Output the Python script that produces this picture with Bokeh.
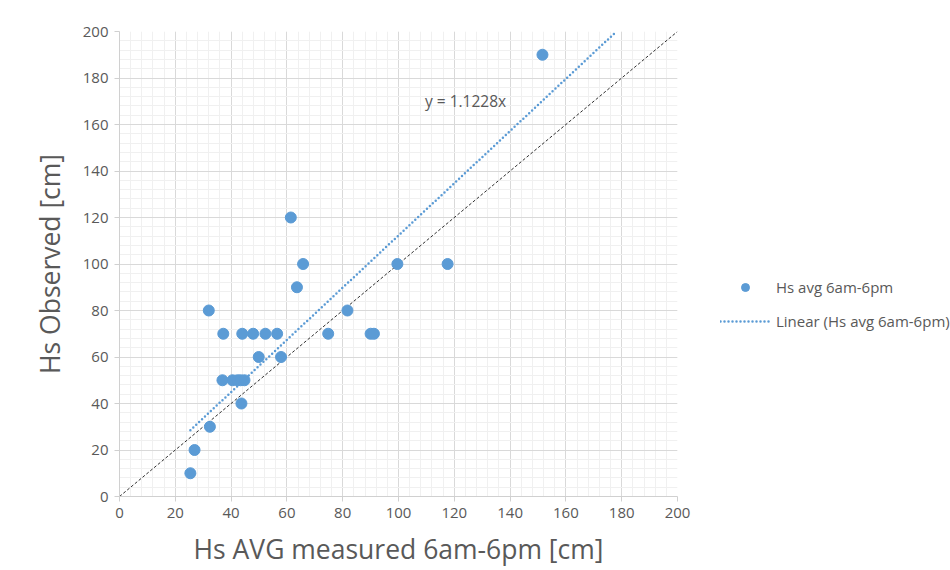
from bokeh.plotting import figure
from bokeh.models import Range1d, SingleIntervalTicker, Legend, LegendItem, Label
from bokeh.embed import file_html
from bokeh.resources import INLINE

# Data
hs_measured = [151.6, 61.4, 65.8, 63.6, 32.0, 81.7, 37.2, 44.0, 47.9, 52.3, 56.5, 74.8,
               90.0, 91.2, 99.6, 117.6, 49.9, 57.9, 36.9, 40.5, 42.3, 43.4, 44.8, 43.7,
               32.4, 26.9, 25.4]
hs_observed = [190, 120, 100, 90, 80, 80, 70, 70, 70, 70, 70, 70,
               70, 70, 100, 100, 60, 60, 50, 50, 50, 50, 50, 40,
               30, 20, 10]
trend_slope = 1.1228
axis_min, axis_max = 0, 200
series_name = "Hs avg 6am-6pm"
trend_name = "Linear (Hs avg 6am-6pm)"
equation_text = "y = 1.1228x"

FONT = "Open Sans"
GRAY = "#595959"
BLUE = "#5B9BD5"

p = figure(frame_width=558, frame_height=465, output_backend="svg", toolbar_location=None,
           x_range=Range1d(axis_min, axis_max), y_range=Range1d(axis_min, axis_max),
           min_border_left=119, min_border_right=0, min_border_top=31, min_border_bottom=74)
p.outline_line_color = None
p.background_fill_color = "white"
p.border_fill_color = "white"

for ax in (p.xaxis[0], p.yaxis[0]):
    ax.ticker = SingleIntervalTicker(interval=20, num_minor_ticks=5)
    ax.major_label_text_font = FONT
    ax.major_label_text_font_size = "15px"
    ax.major_label_text_color = GRAY
    ax.axis_line_color = "#d0d0d0"
    ax.major_tick_line_color = "#d0d0d0"
    ax.major_tick_out = 5
    ax.major_tick_in = 0
    ax.minor_tick_line_color = None
    ax.axis_label_text_font = FONT
    ax.axis_label_text_font_size = "26.5px"
    ax.axis_label_text_font_style = "normal"
    ax.axis_label_text_color = GRAY
    ax.major_label_standoff = 6

p.xaxis.axis_label = "Hs AVG measured 6am-6pm [cm]"
p.yaxis.axis_label = "Hs Observed [cm]"
p.xaxis.axis_label_standoff = 10
p.yaxis.axis_label_standoff = 12

for g in (p.xgrid[0], p.ygrid[0]):
    g.ticker = SingleIntervalTicker(interval=20, num_minor_ticks=5)
    g.grid_line_color = "#d9d9d9"
    g.minor_grid_line_color = "#f0f0f0"

# 1:1 line
p.line([axis_min, axis_max], [axis_min, axis_max], line_color="#303030",
       line_width=1, line_dash="3 2")

sc = p.scatter(hs_measured, hs_observed, size=11, fill_color=BLUE, line_color=BLUE)

tx0 = min(hs_measured)
tx1 = axis_max / trend_slope
tl = p.line([tx0, tx1], [tx0 * trend_slope, tx1 * trend_slope], line_color=BLUE,
            line_width=2.5, line_dash="0 4", line_cap="round")

p.add_layout(Label(x=109.5, y=170, text=equation_text, text_font=FONT,
                   text_font_size="15.5px", text_color=GRAY, text_baseline="middle"))

legend = Legend(items=[LegendItem(label=series_name, renderers=[sc]),
                       LegendItem(label=trend_name, renderers=[tl])],
                location=(43, 165), glyph_width=50, glyph_height=20, spacing=14,
                padding=0, margin=0, label_standoff=6, border_line_color=None,
                background_fill_alpha=0, label_text_font=FONT,
                label_text_font_size="15px", label_text_color=GRAY)
p.add_layout(legend, "right")

open("out.html", "w").write(file_html(p, INLINE))
